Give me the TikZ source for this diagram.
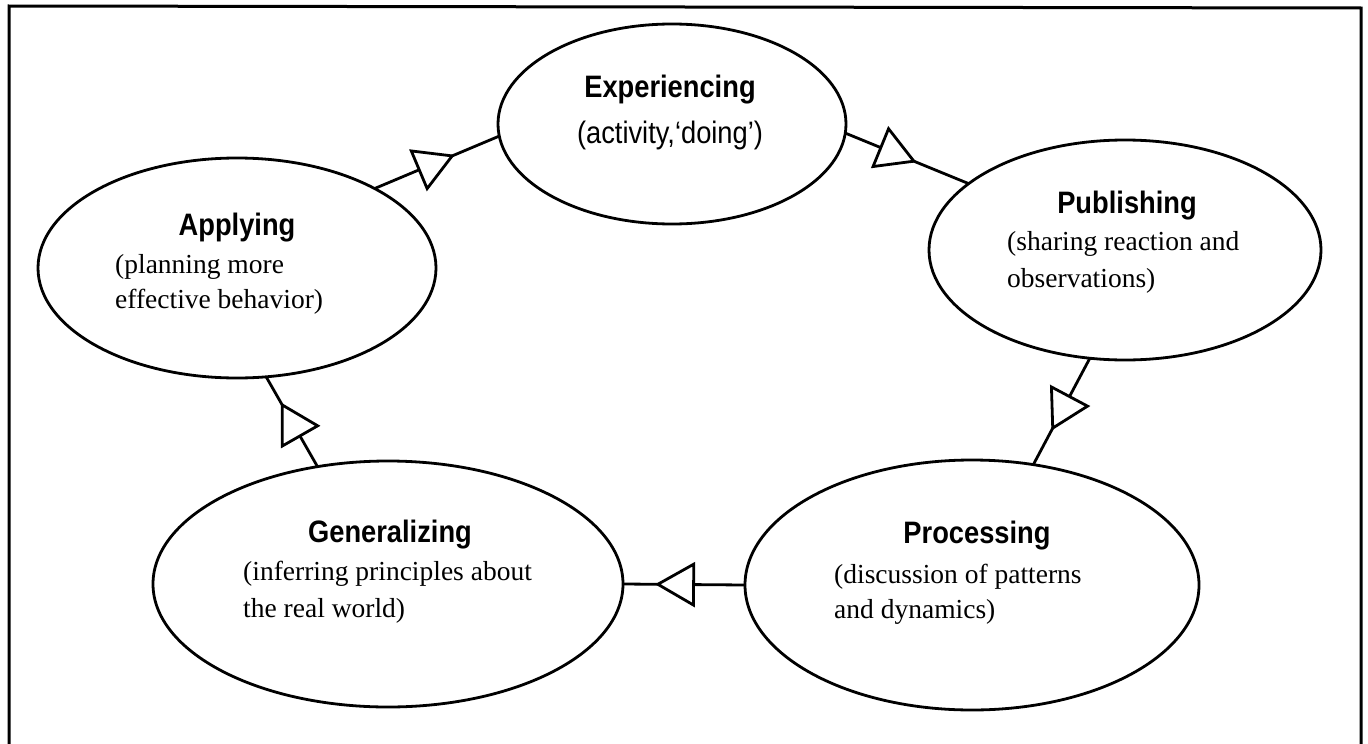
\documentclass[tikz,border=0pt]{standalone}
\usepackage{fontspec}
\setmainfont{Liberation Serif}
\newfontfamily\titlefont{Liberation Sans}[FakeStretch=0.88]
\usetikzlibrary{shapes.geometric,arrows.meta,decorations.markings}
\tikzset{
  stage/.style={draw, ellipse, line width=2.8pt, inner sep=0pt, outer sep=0pt},
  ttl/.style={anchor=base, inner sep=0pt, font=\titlefont\bfseries\fontsize{31}{36}\selectfont},
  ttlsub/.style={anchor=base, inner sep=0pt, font=\titlefont\fontsize{31}{36}\selectfont},
  sub/.style={anchor=base west, inner sep=0pt, font=\fontsize{27.5}{36}\selectfont},
  flow/.style={line width=2.8pt, postaction={decorate},
    decoration={markings, mark=at position #1 with {\arrow{Triangle[length=40pt,width=45pt,fill=white]}}}},
  frame/.style={line width=3pt}
}
\begin{document}
\begin{tikzpicture}[x=1pt,y=-1pt]
\useasboundingbox (0,0) rectangle (1368,744);
\draw[frame] (9,744) -- (9,6) -- (1361,8) -- (1361,744);

\node[stage, minimum width=348pt, minimum height=200pt] (exp) at (672,124) {};
\node[stage, minimum width=392pt, minimum height=220pt] (pub) at (1125,250) {};
\node[stage, minimum width=398pt, minimum height=220pt] (app) at (237,268) {};
\node[stage, minimum width=470pt, minimum height=246pt] (gen) at (388,584) {};
\node[stage, minimum width=454pt, minimum height=250pt] (proc) at (972,585) {};

\node[ttl] (expt) at (670,97) {Experiencing};
\node[ttlsub] (exps) at (670,143) {(activity,‘doing’)};
\node[ttl] (pubt) at (1127,213) {Publishing};
\node[sub] (pubs1) at (1007,250) {(sharing reaction and};
\node[sub] (pubs2) at (1007,287) {observations)};
\node[ttl] (appt) at (237,235) {Applying};
\node[sub] (apps1) at (115,273) {(planning more};
\node[sub] (apps2) at (115,308) {effective behavior)};
\node[ttl] (gent) at (390,542) {Generalizing};
\node[sub] (gens1) at (243,580) {(inferring principles about};
\node[sub] (gens2) at (243,617) {the real world)};
\node[ttl] (proct) at (977,543) {Processing};
\node[sub] (procs1) at (834,583) {(discussion of patterns};
\node[sub] (procs2) at (834,618) {and dynamics)};

\draw[flow=77pt] (exp.-3) -- (pub.157);
\draw[flow=82pt] (pub.252) -- (proc.63);
\draw[flow=90pt] (proc.180) -- (gen.0);
\draw[flow=74pt] (gen.121) -- (app.-75);
\draw[flow=87pt] (app.30) -- (exp.184);
\end{tikzpicture}
\end{document}
